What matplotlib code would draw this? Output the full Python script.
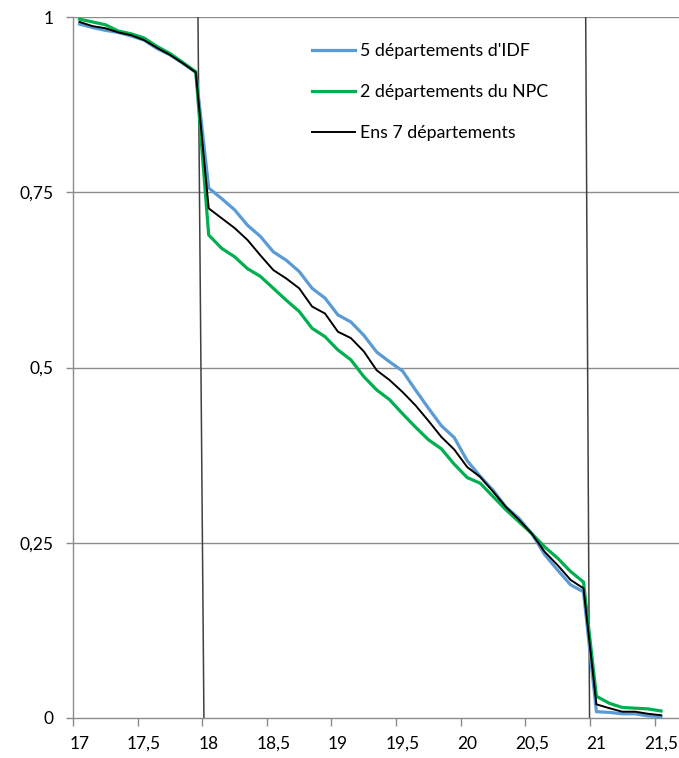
import numpy as np
import matplotlib.pyplot as plt

# ages 17.0 .. 21.5 by 0.1
ages = np.round(np.arange(17.0, 21.55, 0.1), 1)

idf = [0.990, 0.985, 0.981, 0.978, 0.973, 0.967, 0.955, 0.946, 0.934, 0.921,
       0.756, 0.741, 0.725, 0.703, 0.687, 0.665, 0.653, 0.637, 0.613, 0.599,
       0.575, 0.565, 0.546, 0.522, 0.508, 0.495, 0.468, 0.442, 0.417, 0.400,
       0.367, 0.345, 0.325, 0.301, 0.285, 0.263, 0.233, 0.211, 0.190, 0.180,
       0.009, 0.008, 0.006, 0.006, 0.003, 0.002]
npc = [0.997, 0.993, 0.989, 0.980, 0.976, 0.970, 0.958, 0.948, 0.935, 0.922,
       0.689, 0.670, 0.658, 0.641, 0.630, 0.613, 0.596, 0.580, 0.556, 0.544,
       0.525, 0.511, 0.487, 0.468, 0.454, 0.434, 0.415, 0.397, 0.384, 0.362,
       0.343, 0.335, 0.316, 0.297, 0.280, 0.263, 0.244, 0.228, 0.209, 0.194,
       0.031, 0.021, 0.015, 0.014, 0.013, 0.010]
ens = [0.993, 0.987, 0.984, 0.978, 0.974, 0.967, 0.956, 0.946, 0.934, 0.921,
       0.727, 0.713, 0.699, 0.682, 0.660, 0.639, 0.627, 0.613, 0.587, 0.577,
       0.551, 0.542, 0.523, 0.496, 0.482, 0.465, 0.446, 0.424, 0.401, 0.383,
       0.358, 0.344, 0.323, 0.301, 0.283, 0.263, 0.237, 0.218, 0.197, 0.185,
       0.0195, 0.014, 0.009, 0.009, 0.006, 0.004]

labels = ["5 départements d'IDF", "2 départements du NPC", "Ens 7 départements"]
xlabels = ['17', '17,5', '18', '18,5', '19', '19,5', '20', '20,5', '21', '21,5']
ylabels = ['0', '0,25', '0,5', '0,75', '1']

plt.rcParams['font.family'] = ['Lato', 'DejaVu Sans']

fig = plt.figure(figsize=(6.79, 7.58), dpi=100)
ax = fig.add_axes([73/679, 1 - 718/758, 1 - 73/679, (718 - 17)/758])

grey = '#8c8c8c'
for y in [0.25, 0.5, 0.75, 1.0]:
    ax.axhline(y, color=grey, lw=1, zorder=1)

# slanted marker lines at 18 and 21
ax.plot([17.917, 17.963], [1.0, 0.0], color='#404040', lw=1.1, zorder=2)
ax.plot([20.917, 20.947], [1.0, -0.003], color='#404040', lw=1.1, zorder=2)

ax.plot(ages, idf, color='#5b9bd5', lw=2.3, label=labels[0], zorder=3)
ax.plot(ages, npc, color='#00b050', lw=2.3, label=labels[1], zorder=4)
ax.plot(ages, ens, color='black', lw=1.4, label=labels[2], zorder=5)

ax.set_xlim(16.959, 21.639)
ax.set_ylim(0, 1)

ax.set_xticks(np.arange(16.95, 21.5, 0.5))
ax.set_xticklabels([])
ax.set_xticks(np.arange(17.0, 21.55, 0.5), minor=True)
ax.set_xticklabels(xlabels, minor=True)
ax.tick_params(axis='x', which='major', length=6, color=grey, width=1)
ax.tick_params(axis='x', which='minor', length=0, pad=13, labelsize=12.5)

ax.set_yticks([0, 0.25, 0.5, 0.75, 1.0])
ax.set_yticklabels(ylabels)
ax.tick_params(axis='y', length=5, color=grey, width=1, pad=9, labelsize=12.5)

for s in ['top', 'right']:
    ax.spines[s].set_visible(False)
for s in ['left', 'bottom']:
    ax.spines[s].set_color(grey)
    ax.spines[s].set_linewidth(1)

ax.legend(loc='upper left', bbox_to_anchor=(296/679, 1 - 27/758),
          bbox_transform=fig.transFigure, frameon=False, fontsize=12.8,
          handlelength=2.4, handletextpad=0.3, labelspacing=1.42)

fig.savefig('out.png', dpi=100)
